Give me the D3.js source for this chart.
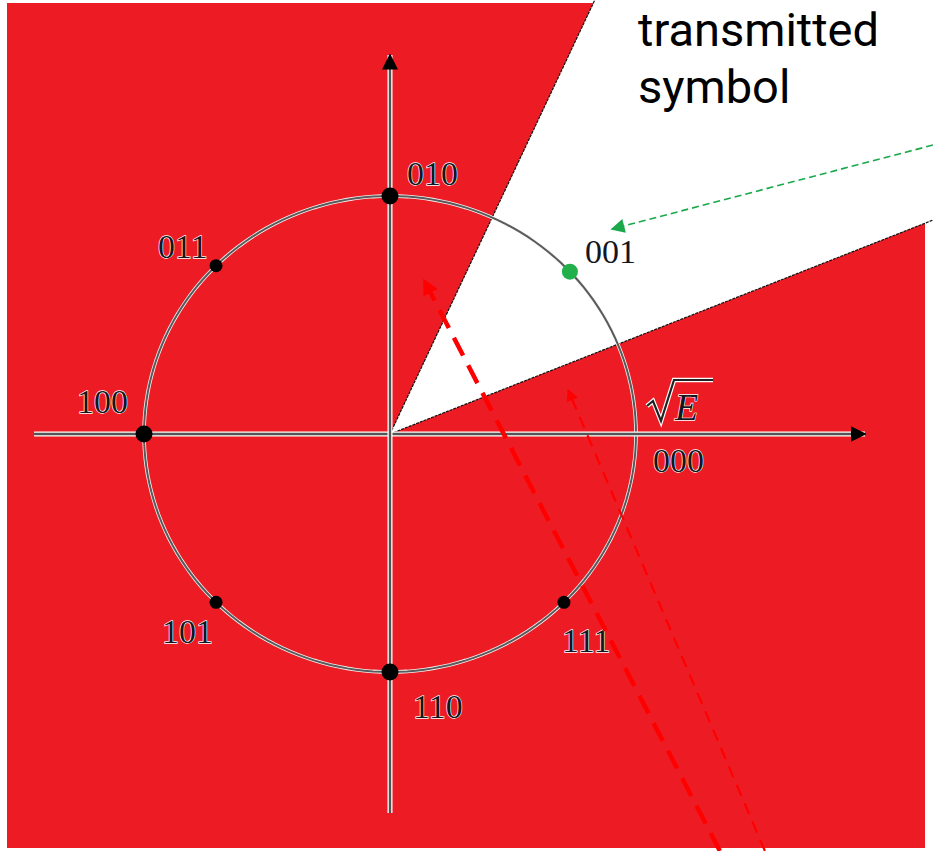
<!DOCTYPE html>
<html><head><meta charset="utf-8">
<script src="https://cdn.jsdelivr.net/npm/d3@7"></script>
<style>html,body{margin:0;padding:0;background:#fff;overflow:hidden}</style>
</head><body>
<script>
// ---- data ----
const symbolLabels = ["000","001","010","011","100","101","110","111"];
const symbolAngles = [0, 43, 90, 135, 180, 225, 270, 315];   // degrees on the circle
const highlighted = "001";                                    // transmitted symbol
const axisXExtent = [-1.447, 1.931];
const axisYExtent = [-1.592, 1.592];
const wedgeRays = [[0.84, 1.84], [2.21, 0.90]];               // decision-region boundary directions
const redArrowThick = [[1.341, -1.752], [0.138, 0.647]];
const redArrowThin = [[1.524, -1.752], [0.724, 0.185]];
const greenArrow = [[2.207, 1.214], [0.902, 0.861]];
const titleLines = ["transmitted", "symbol"];
const radiusLabel = "E";

// ---- layout ----
const W = 933, H = 851;
const x = d3.scaleLinear().domain([-1, 1]).range([144, 636]);
const y = d3.scaleLinear().domain([-1, 1]).range([672, 196]);
const RED = "#ED1C24";

const svg = d3.select("body").append("svg").attr("width", W).attr("height", H)
  .style("font-family", "'Liberation Serif','DejaVu Serif',serif");
const defs = svg.append("defs");
defs.append("clipPath").attr("id","clip").append("rect").attr("width",W).attr("height",H);
function marker(id, color, w, h){
  defs.append("marker").attr("id", id).attr("viewBox","0 0 10 10").attr("refX",9).attr("refY",5)
    .attr("markerUnits","userSpaceOnUse").attr("markerWidth",w).attr("markerHeight",h).attr("orient","auto")
    .append("path").attr("d","M0,0 L10,5 L0,10 z").attr("fill",color);
}
marker("mRed", "#ff0000", 16, 16);
marker("mRedThin", "#ff0000", 12, 12);
marker("mGreen", "#1aa84a", 18, 14);
marker("mAxis", "#000", 16, 20);

// background red panel
svg.append("rect").attr("x",7).attr("y",3).attr("width",918).attr("height",845).attr("fill",RED);

// white decision wedge
const ox = x(0), oy = y(0);
const far = 6;
const wedgePts = [[ox,oy],
  [x(wedgeRays[0][0]*far), y(wedgeRays[0][1]*far)],
  [x(6), y(6)],
  [x(wedgeRays[1][0]*far), y(wedgeRays[1][1]*far)]];
const g = svg.append("g").attr("clip-path","url(#clip)");
g.append("path").attr("d", d3.line()(wedgePts)+"Z").attr("fill","#fff");
wedgeRays.forEach(r=>{
  g.append("line").attr("x1",ox).attr("y1",oy).attr("x2",x(r[0]*far)).attr("y2",y(r[1]*far))
    .attr("stroke","#111").attr("stroke-width",1.2).attr("stroke-dasharray","3,1");
});

// circle (constellation ring)
const ring = d3.range(0, 361, 2);
const ringLine = d3.line().x(a=>x(Math.cos(a*Math.PI/180))).y(a=>y(Math.sin(a*Math.PI/180)));
svg.append("path").attr("d", ringLine(ring)).attr("fill","none").attr("stroke","#f4f4f4").attr("stroke-width",3.6);
svg.append("path").attr("d", ringLine(ring)).attr("fill","none").attr("stroke","#5a5a5a").attr("stroke-width",2);

// axes
function axis(x1,y1,x2,y2){
  svg.append("line").attr("x1",x1).attr("y1",y1).attr("x2",x2).attr("y2",y2)
    .attr("stroke","#fff").attr("stroke-width",5);
  svg.append("line").attr("x1",x1).attr("y1",y1).attr("x2",x2).attr("y2",y2)
    .attr("stroke","#555").attr("stroke-width",2.4).attr("marker-end","url(#mAxis)");
}
axis(x(axisXExtent[0]), y(0), x(axisXExtent[1]), y(0));
axis(x(0), y(axisYExtent[0]), x(0), y(axisYExtent[1]));

// symbols
const symbols = symbolLabels.map((l,i)=>({label:l, deg:symbolAngles[i], a:symbolAngles[i]*Math.PI/180}));
const labelOffset = {"000":[17,38],"001":[15,-9],"010":[17,-11],"011":[-58,-8],
  "100":[-67,-21],"101":[-54,41],"110":[23,46],"111":[-2,50]};
svg.selectAll("circle.sym").data(symbols.filter(d=>d.deg!==0)).join("circle").attr("class","sym")
  .attr("cx",d=>x(Math.cos(d.a))).attr("cy",d=>y(Math.sin(d.a)))
  .attr("r",d=> d.label===highlighted ? 8 : (d.deg%90===0 ? 8.5 : 6.5))
  .attr("fill",d=> d.label===highlighted ? "#22b04b" : "#000");
svg.selectAll("text.lab").data(symbols).join("text").attr("class","lab")
  .attr("x",d=>x(Math.cos(d.a))+labelOffset[d.label][0])
  .attr("y",d=>y(Math.sin(d.a))+labelOffset[d.label][1])
  .attr("font-size",34).attr("fill","#15151f")
  .attr("stroke","#fff").attr("stroke-width",1.3).attr("paint-order","stroke")
  .text(d=>d.label);

// sqrt(E) label
const sx = x(1)+11, sy = y(0)-14;
svg.append("path")
  .attr("d",`M${sx},${sy-14} L${sx+6},${sy-19} L${sx+14},${sy+1} L${sx+27},${sy-40} L${sx+66},${sy-40}`)
  .attr("fill","none").attr("stroke","#fff").attr("stroke-width",4.5).attr("stroke-linejoin","miter");
svg.append("path")
  .attr("d",`M${sx},${sy-14} L${sx+6},${sy-19} L${sx+14},${sy+1} L${sx+27},${sy-40} L${sx+66},${sy-40}`)
  .attr("fill","none").attr("stroke","#222").attr("stroke-width",2.2).attr("stroke-linejoin","miter");
svg.append("text").attr("x",sx+28).attr("y",sy).attr("font-size",38).attr("font-style","italic")
  .attr("fill","#15151f").attr("stroke","#fff").attr("stroke-width",1.3).attr("paint-order","stroke").text(radiusLabel);

// annotation arrows
function arrow(p, color, w, dash, m){
  svg.append("line").attr("x1",x(p[0][0])).attr("y1",y(p[0][1])).attr("x2",x(p[1][0])).attr("y2",y(p[1][1]))
    .attr("stroke",color).attr("stroke-width",w).attr("stroke-dasharray",dash).attr("marker-end",`url(#${m})`);
}
arrow(redArrowThick, "#ff0000", 4.5, "20,11", "mRed");
arrow(redArrowThin, "#ff0000", 2.2, "12,8", "mRedThin");
arrow(greenArrow, "#1aa84a", 1.6, "7,4", "mGreen");

// title
svg.append("text").attr("font-family","Roboto, 'Open Sans', sans-serif").attr("font-size",47).attr("fill","#000")
  .selectAll("tspan").data(titleLines).join("tspan").attr("x",638).attr("y",(d,i)=>46+i*57).text(d=>d);
</script>
</body></html>
